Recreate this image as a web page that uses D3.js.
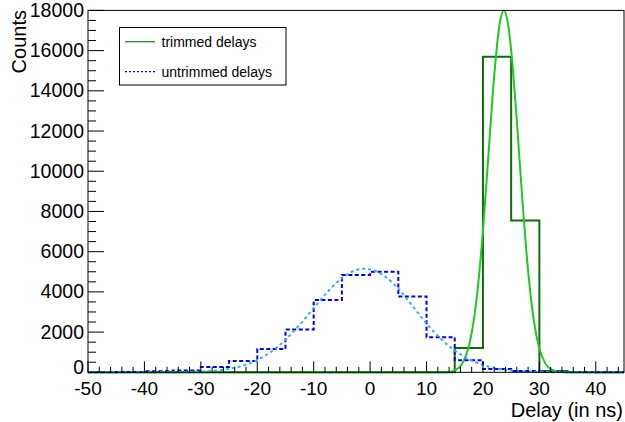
<!DOCTYPE html>
<html>
<head>
<meta charset="utf-8">
<script src="https://cdn.jsdelivr.net/npm/d3@7"></script>
<style>
  html, body { margin: 0; padding: 0; background: #fff; }
  svg { display: block; font-family: "Liberation Sans", Arial, Helvetica, sans-serif; }
</style>
</head>
<body>
<svg id="chart" width="625" height="422"></svg>
<script>
// ---- data ----
const binEdges = [-50,-45,-40,-35,-30,-25,-20,-15,-10,-5,0,5,10,15,20,25,30,35,40,45];
const untrimmedCounts = [5,15,50,90,265,565,1160,2130,3590,4840,5000,3770,1745,600,165,60,20,10,5];
const trimmedCounts   = [0,0,0,0,0,0,0,0,0,0,0,0,0,1210,15700,7550,70,0,0];

const trimmedFitX = [-50,12,14,15,16,17,18,19,20,21,22,23,23.7,24.5,25,26,27,28,29,30,31,32,33,34,35,37,45];
const trimmedFitY = [0,0,20,100,307,828,1940,3960,7040,10920,14770,17400,18000,17230,16030,12530,8530,5060,2620,1180,468,160,48,12,2,0,0];

const untrimmedFitX = [-50,-45,-40,-35,-30,-27.5,-25,-22.5,-20,-17.5,-15,-12.5,-10,-7.5,-5,-2.5,-1,0,2.5,5,7.5,10,12.5,15,17.5,20,22.5,25,27.5,30,35,40,45];
const untrimmedFitY = [0,0,1,6,36,81,172,336,611,1031,1617,2359,3192,4012,4686,5082,5150,5120,4790,4163,3300,2430,1680,1080,660,370,190,92,42,18,2,0,0];

const xTickValues = [-50,-40,-30,-20,-10,0,10,20,30,40];
const yTickValues = [0,2000,4000,6000,8000,10000,12000,14000,16000,18000];
const legendLabels = ["trimmed delays", "untrimmed delays"];
const xTitle = "Delay (in ns)";
const yTitle = "Counts";

// ---- layout ----
const svg = d3.select("#chart");
const L = 88, R = 624, T = 10.4, B = 372.3;
const x = d3.scaleLinear().domain([-50, 45]).range([L, R]);
const y = d3.scaleLinear().domain([0, 18000]).range([B, T]);

svg.append("rect").attr("width", 625).attr("height", 422).attr("fill", "#fff");

svg.append("defs").append("clipPath").attr("id", "clip")
  .append("rect").attr("x", L).attr("y", T - 2).attr("width", R - L).attr("height", B - T + 4);

const plot = svg.append("g").attr("clip-path", "url(#clip)");

function histPoints(counts) {
  const pts = counts.map((c, i) => [binEdges[i], c]);
  pts.push([binEdges[binEdges.length - 1], counts[counts.length - 1]]);
  return pts;
}
const stepLine = d3.line().x(d => x(d[0])).y(d => y(d[1])).curve(d3.curveStepAfter);
const smoothLine = d3.line().x(d => x(d[0])).y(d => y(d[1])).curve(d3.curveMonotoneX);

// trimmed histogram
plot.append("path").attr("d", stepLine(histPoints(trimmedCounts)))
  .attr("fill", "none").attr("stroke", "#0b6e0b").attr("stroke-width", 2);
// trimmed fit
plot.append("path").attr("d", smoothLine(trimmedFitX.map((v, i) => [v, trimmedFitY[i]])))
  .attr("fill", "none").attr("stroke", "#1fc81f").attr("stroke-width", 2);
// untrimmed histogram
plot.append("path").attr("d", stepLine(histPoints(untrimmedCounts)))
  .attr("fill", "none").attr("stroke", "#0000ee").attr("stroke-width", 2)
  .attr("stroke-dasharray", "4,2.5");
// untrimmed fit
plot.append("path").attr("d", smoothLine(untrimmedFitX.map((v, i) => [v, untrimmedFitY[i]])))
  .attr("fill", "none").attr("stroke", "#33aaff").attr("stroke-width", 2)
  .attr("stroke-dasharray", "3,3");

// ---- frame & axes ----
svg.append("rect").attr("x", L).attr("y", T).attr("width", R - L).attr("height", B - T)
  .attr("fill", "none").attr("stroke", "#000").attr("stroke-width", 1);

const axG = svg.append("g").attr("stroke", "#000").attr("stroke-width", 1);
// x ticks (inward, upward)
d3.range(-50, 46, 2).forEach(v => {
  const major = xTickValues.includes(v);
  axG.append("line").attr("x1", x(v)).attr("x2", x(v))
    .attr("y1", B).attr("y2", B - (major ? 11 : 5.5));
});
// y ticks (inward, rightward)
d3.range(0, 18001, 500).forEach(v => {
  const major = yTickValues.includes(v);
  axG.append("line").attr("x1", L).attr("x2", L + (major ? 16 : 8))
    .attr("y1", y(v)).attr("y2", y(v));
});

svg.append("g").selectAll("text").data(xTickValues).join("text")
  .attr("x", d => x(d)).attr("y", 395).attr("text-anchor", "middle")
  .attr("font-size", 19).attr("fill", "#000").text(d => d);

// the label at the axis origin sits slightly raised, as in the reference
svg.append("g").selectAll("text").data(yTickValues).join("text")
  .attr("x", 84).attr("y", d => d === 0 ? 373.5 : y(d) + 6.5).attr("text-anchor", "end")
  .attr("font-size", 19.5).attr("fill", "#000").text(d => d);

svg.append("text").attr("x", 623).attr("y", 417).attr("text-anchor", "end")
  .attr("font-size", 20).attr("fill", "#000").text(xTitle);

svg.append("text").attr("transform", "translate(26,10) rotate(-90)")
  .attr("text-anchor", "end").attr("font-size", 20).attr("fill", "#000").text(yTitle);

// ---- legend ----
const lg = svg.append("g");
lg.append("rect").attr("x", 119.5).attr("y", 27.5).attr("width", 166.5).attr("height", 57.5)
  .attr("fill", "#fff").attr("stroke", "#000").attr("stroke-width", 1);
const legendStyles = [
  { color: "#1a801a", dash: null },
  { color: "#0000ee", dash: "2,2" }
];
const legendY = [41.7, 71.7];
legendLabels.forEach((lab, i) => {
  const ln = lg.append("line").attr("x1", 125).attr("x2", 155)
    .attr("y1", legendY[i]).attr("y2", legendY[i])
    .attr("stroke", legendStyles[i].color).attr("stroke-width", 1.2);
  if (legendStyles[i].dash) ln.attr("stroke-dasharray", legendStyles[i].dash);
  lg.append("text").attr("x", 161.5).attr("y", legendY[i] + 5)
    .attr("font-size", 14).attr("fill", "#000").text(lab);
});
</script>
</body>
</html>
